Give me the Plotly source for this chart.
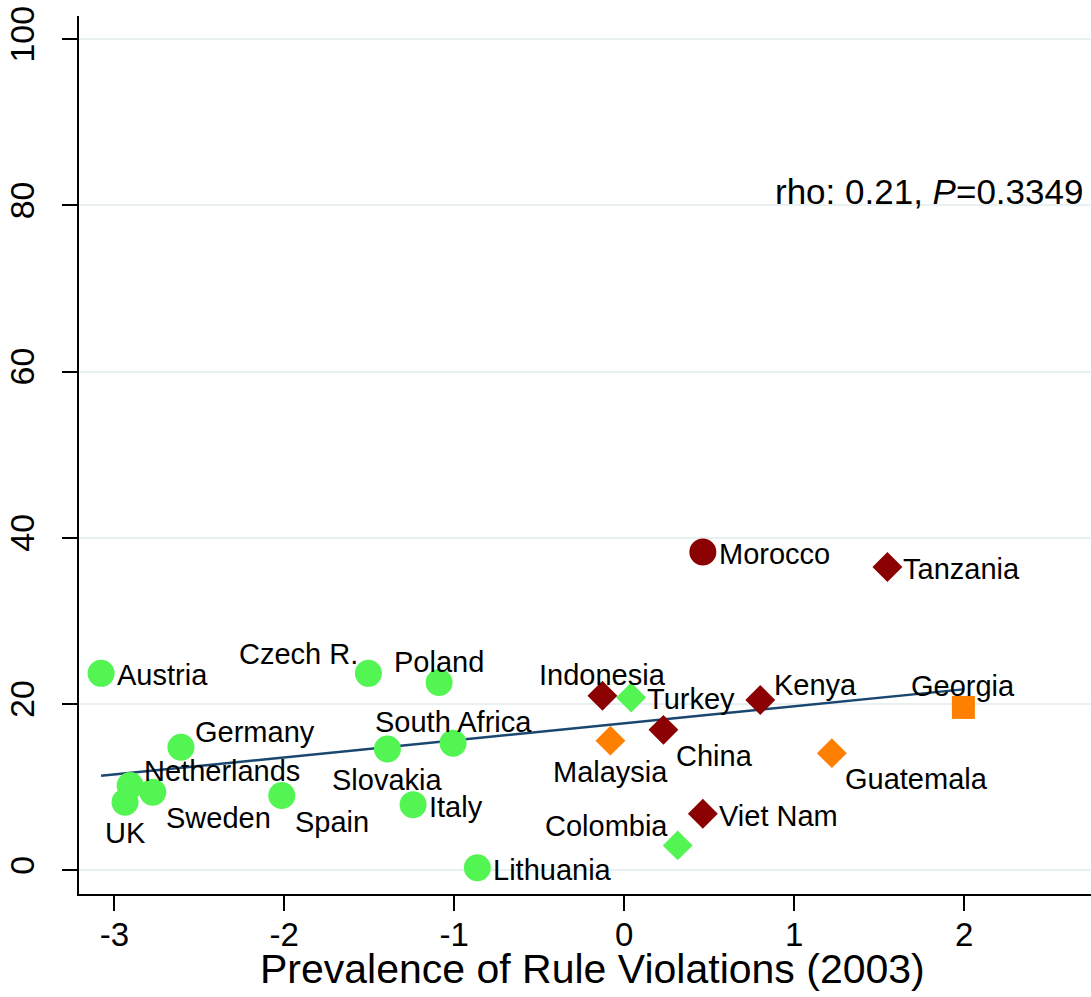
import numpy as np
import plotly.graph_objects as go

# ---- data ----
countries = ["Austria", "Czech R.", "Poland", "Germany", "Netherlands", "UK", "Sweden",
             "Spain", "Slovakia", "South Africa", "Italy", "Lithuania",
             "Indonesia", "Turkey", "Malaysia", "China", "Kenya", "Viet Nam",
             "Colombia", "Guatemala", "Morocco", "Tanzania", "Georgia"]
rule_violations = [-3.078, -1.505, -1.089, -2.608, -2.907, -2.937, -2.774,
                   -2.015, -1.393, -1.007, -1.242, -0.864,
                   -0.128, 0.041, -0.081, 0.231, 0.801, 0.463,
                   0.315, 1.222, 0.463, 1.549, 1.996]
outcome = [23.7, 23.7, 22.6, 14.8, 10.2, 8.2, 9.4,
           9.0, 14.6, 15.3, 7.9, 0.3,
           21.0, 20.8, 15.6, 16.9, 20.5, 6.8,
           3.0, 14.1, 38.3, 36.5, 19.6]
group = ["g", "g", "g", "g", "g", "g", "g",
         "g", "g", "g", "g", "g",
         "r", "g", "o", "r", "r", "r",
         "g", "o", "r", "r", "o"]
shape = ["circle"] * 12 + ["diamond", "diamond", "diamond", "diamond", "diamond", "diamond",
                           "diamond", "diamond", "circle", "diamond", "square"]
y_ticks = [0, 20, 40, 60, 80, 100]
y_tick_labels = ["0", "20", "40", "60", "80", "100"]
x_ticks = [-3, -2, -1, 0, 1, 2]
x_tick_labels = ["-3", "-2", "-1", "0", "1", "2"]
rho_text = "rho: 0.21, <i>P</i>=0.3349"
x_title = "Prevalence of Rule Violations (2003)"

# ---- style ----
colors = {"g": "#52F552", "r": "#8B0000", "o": "#FF7F00"}
sizes = {"circle": 27, "diamond": 23, "square": 23}
label_pos = {"Austria": 3, "Czech R.": 11, "Poland": 12, "Germany": 2, "Netherlands": 2,
             "UK": 6, "Sweden": 4, "Spain": 4, "Slovakia": 6, "South Africa": 12,
             "Italy": 3, "Lithuania": 3, "Indonesia": 12, "Turkey": 3, "Malaysia": 6,
             "China": 4, "Kenya": 2, "Viet Nam": 3, "Colombia": 11, "Guatemala": 4,
             "Morocco": 3, "Tanzania": 3, "Georgia": 12}
pos_spec = {3: ("left", 14, -2), 12: ("center", 0, 21), 6: ("center", 0, -31),
            11: ("right", -8, 19), 2: ("left", 12, 15), 4: ("left", 11, -26)}
FONT = "Liberation Sans, Arial, sans-serif"

fig = go.Figure()

# fitted line (OLS through the points)
xa = np.array(rule_violations)
ya = np.array(outcome)
b, a = np.polyfit(xa, ya, 1)
xl = np.array([xa.min(), xa.max()])
fig.add_trace(go.Scatter(x=xl, y=a + b * xl, mode="lines",
                         line=dict(color="#1A476F", width=2.5), hoverinfo="skip"))

# markers
for c, s in [("g", "circle"), ("g", "diamond"), ("r", "diamond"), ("r", "circle"),
             ("o", "diamond"), ("o", "square")]:
    idx = [i for i in range(len(countries)) if group[i] == c and shape[i] == s]
    if not idx:
        continue
    fig.add_trace(go.Scatter(
        x=[rule_violations[i] for i in idx], y=[outcome[i] for i in idx],
        mode="markers", text=[countries[i] for i in idx],
        marker=dict(symbol=s, size=sizes[s], color=colors[c], line=dict(width=0))))

# labels
for i, name in enumerate(countries):
    xanc, xs, ys = pos_spec[label_pos[name]]
    fig.add_annotation(x=rule_violations[i], y=outcome[i], text=name, showarrow=False,
                       xanchor=xanc, yanchor="middle", xshift=xs, yshift=ys,
                       font=dict(family=FONT, size=29, color="black"))

fig.add_annotation(x=2.71, y=81.7, text=rho_text, showarrow=False, xanchor="right",
                   yanchor="middle", font=dict(family=FONT, size=35, color="black"))

# x-axis title
fig.add_annotation(x=0.507, y=-0.0855, xref="paper", yref="paper", text=x_title,
                   showarrow=False, xanchor="center", yanchor="middle",
                   font=dict(family=FONT, size=41, color="black"))

fig.update_layout(
    width=1091, height=997, showlegend=False,
    margin=dict(l=79, r=0, t=16, b=103),
    paper_bgcolor="white", plot_bgcolor="white",
    font=dict(family=FONT, color="black"),
    xaxis=dict(range=[-3.208, 2.747], tickvals=x_ticks, ticktext=x_tick_labels,
               ticks="outside", ticklen=15,
               tickwidth=2, tickcolor="black", showline=True, linecolor="black",
               linewidth=2, showgrid=False, zeroline=False,
               tickfont=dict(size=33, family=FONT), ticklabelstandoff=-5),
    yaxis=dict(range=[-2.85, 102.8], tickvals=y_ticks, ticktext=y_tick_labels,
               ticks="outside", ticklen=15,
               tickwidth=2, tickcolor="black", showline=True, linecolor="black",
               linewidth=2, showgrid=True, gridcolor="#E8F0F2", gridwidth=2,
               zeroline=False, tickangle=-90,
               tickfont=dict(size=34, family=FONT), ticklabelstandoff=14),
)

fig.write_html("out.html")
